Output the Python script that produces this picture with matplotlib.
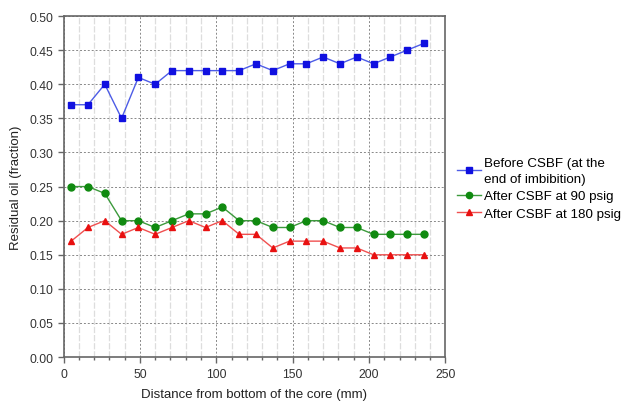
import matplotlib
matplotlib.use("Agg")
import matplotlib.pyplot as plt
from matplotlib.ticker import MultipleLocator

plt.rcParams['font.family'] = ['Liberation Sans', 'DejaVu Sans']

distance = [5, 16, 27, 38, 49, 60, 71, 82, 93, 104, 115, 126, 137, 148, 159, 170, 181, 192, 203, 214, 225, 236]
before_csbf = [0.37, 0.37, 0.40, 0.35, 0.41, 0.40, 0.42, 0.42, 0.42, 0.42, 0.42, 0.43, 0.42, 0.43, 0.43, 0.44, 0.43, 0.44, 0.43, 0.44, 0.45, 0.46]
after_90 = [0.25, 0.25, 0.24, 0.20, 0.20, 0.19, 0.20, 0.21, 0.21, 0.22, 0.20, 0.20, 0.19, 0.19, 0.20, 0.20, 0.19, 0.19, 0.18, 0.18, 0.18, 0.18]
after_180 = [0.17, 0.19, 0.20, 0.18, 0.19, 0.18, 0.19, 0.20, 0.19, 0.20, 0.18, 0.18, 0.16, 0.17, 0.17, 0.17, 0.16, 0.16, 0.15, 0.15, 0.15, 0.15]
labels = ["Before CSBF (at the\nend of imbibition)", "After CSBF at 90 psig", "After CSBF at 180 psig"]

fig = plt.figure(figsize=(6.29, 4.06), dpi=100)
ax = fig.add_axes([0.101, 0.118, 0.607, 0.840])

ax.plot(distance, before_csbf, color='#4d5ce6', lw=1.0, marker='s', ms=5,
        mfc='#1010e0', mec='#1010e0', label=labels[0], zorder=3)
ax.plot(distance, after_90, color='#3c9a3c', lw=1.0, marker='o', ms=5,
        mfc='#108a10', mec='#108a10', label=labels[1], zorder=3)
ax.plot(distance, after_180, color='#f05050', lw=1.0, marker='^', ms=5,
        mfc='#e81010', mec='#e81010', label=labels[2], zorder=3)

ax.set_xlim(0, 250)
ax.set_ylim(0, 0.50)
ax.xaxis.set_major_locator(MultipleLocator(50))
ax.xaxis.set_minor_locator(MultipleLocator(10))
ax.yaxis.set_major_locator(MultipleLocator(0.05))
ax.yaxis.set_major_formatter(matplotlib.ticker.FormatStrFormatter('%.2f'))

ax.grid(True, which='major', color='#888888', ls=(0, (2, 2)), lw=0.7)
ax.grid(True, which='minor', axis='x', color='#dddddd', ls=(0, (5, 1.5)), lw=0.9)
ax.set_axisbelow(True)

for s in ax.spines.values():
    s.set_color('#666666')
    s.set_linewidth(1.2)
ax.tick_params(which='major', direction='out', length=4, width=1, color='#666666',
               labelsize=8.8, labelcolor='#333333')
ax.tick_params(which='minor', direction='out', length=2.5, width=1, color='#666666')

ax.set_xlabel('Distance from bottom of the core (mm)', fontsize=9.5, color='#222222', labelpad=6)
ax.set_ylabel('Residual oil (fraction)', fontsize=9.5, color='#222222', labelpad=5)

leg = fig.legend(loc='upper left', bbox_to_anchor=(0.718, 0.625), frameon=False,
                 fontsize=9.6, handlelength=1.8, handletextpad=0.25, labelspacing=0.4,
                 borderaxespad=0, markerscale=0.9)
for t in leg.get_texts():
    t.set_linespacing(1.45)

fig.savefig('out.png', dpi=100)
